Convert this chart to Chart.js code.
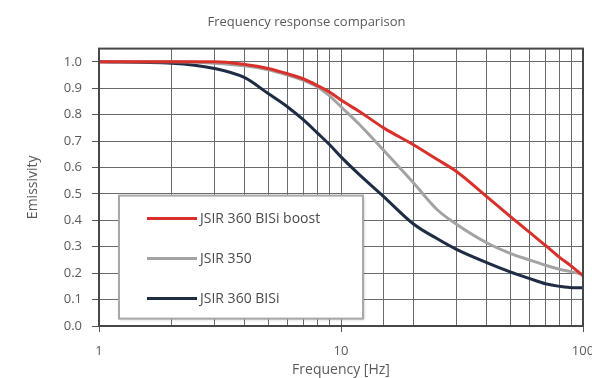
<!DOCTYPE html>
<html>
<head>
<meta charset="utf-8">
<script src="https://cdn.jsdelivr.net/npm/chart.js@4"></script>
<style>
html, body { margin: 0; padding: 0; background: #fff; }
#wrap { width: 592px; height: 378px; position: relative; }
</style>
</head>
<body>
<div id="wrap"><canvas id="chart"></canvas></div>
<script>
// frequency points (Hz) the curves were read at
const frequencies = [1, 2, 3, 4, 5, 6, 7, 8, 9, 10, 12, 15, 20, 25, 30, 40, 50, 60, 70, 80, 90, 100];
const boostValues = [1.0, 1.0, 1.0, 0.99, 0.975, 0.955, 0.935, 0.91, 0.885, 0.855, 0.81, 0.75, 0.685, 0.63, 0.585, 0.49, 0.415, 0.355, 0.305, 0.26, 0.225, 0.19];
const jsir350Values = [1.0, 1.0, 0.995, 0.985, 0.97, 0.95, 0.93, 0.905, 0.87, 0.83, 0.76, 0.665, 0.54, 0.44, 0.385, 0.315, 0.275, 0.25, 0.23, 0.215, 0.205, 0.195];
const bisiValues = [1.0, 0.995, 0.975, 0.94, 0.88, 0.83, 0.78, 0.73, 0.685, 0.64, 0.57, 0.49, 0.385, 0.33, 0.29, 0.24, 0.205, 0.18, 0.16, 0.15, 0.145, 0.145];
const seriesNames = ['JSIR 360 BISi boost', 'JSIR 350', 'JSIR 360 BISi'];
const xTickLabels = [1, 10, 100];
const yTickValues = [0, 0.1, 0.2, 0.3, 0.4, 0.5, 0.6, 0.7, 0.8, 0.9, 1.0];

const FONT = '"Open Sans", sans-serif';
const TEXT = '#5a5a5a';

const toPoints = vals => frequencies.map((f, i) => ({ x: f, y: vals[i] }));

// legend box + plot frame
const boxLegend = {
    id: 'boxLegend',
    afterDatasetsDraw(chart) {
        const c = chart.ctx;
        const a = chart.chartArea;
        c.save();
        c.strokeStyle = '#474747';
        c.lineWidth = 2;
        c.strokeRect(a.left, a.top, a.right - a.left, a.bottom - a.top);

        const bx = a.left + 20, by = a.top + 147, bw = 244, bh = 123;
        c.shadowColor = 'rgba(0,0,0,0.25)';
        c.shadowBlur = 3;
        c.shadowOffsetX = 1;
        c.shadowOffsetY = 1;
        c.fillStyle = '#fff';
        c.fillRect(bx, by, bw, bh);
        c.shadowColor = 'transparent';
        c.strokeStyle = '#a8a8a8';
        c.lineWidth = 2;
        c.strokeRect(bx, by, bw, bh);

        c.font = '14px ' + FONT;
        c.textBaseline = 'middle';
        chart.data.datasets.forEach((ds, i) => {
            const y = by + 23 + i * 40;
            c.strokeStyle = ds.borderColor;
            c.lineWidth = 3;
            c.beginPath();
            c.moveTo(bx + 28, y);
            c.lineTo(bx + 78, y);
            c.stroke();
            c.fillStyle = '#4a4a4a';
            c.fillText(ds.label, bx + 81, y);
        });
        c.restore();
    }
};

new Chart(document.getElementById('chart'), {
    type: 'line',
    data: {
        datasets: [
            { label: seriesNames[0], data: toPoints(boostValues), borderColor: '#d8302a', order: 1 },
            { label: seriesNames[1], data: toPoints(jsir350Values), borderColor: '#a3a3a3', order: 2 },
            { label: seriesNames[2], data: toPoints(bisiValues), borderColor: '#1e2c44', order: 3 }
        ]
    },
    options: {
        responsive: true,
        maintainAspectRatio: false,
        animation: false,
        devicePixelRatio: 1,
        layout: { padding: { left: 21, right: 0, top: 0, bottom: 0 } },
        elements: {
            point: { radius: 0 },
            line: { borderWidth: 3, cubicInterpolationMode: 'monotone', fill: false }
        },
        plugins: {
            legend: { display: false },
            tooltip: { enabled: false },
            title: {
                display: true,
                text: 'Frequency response comparison',
                color: TEXT,
                font: { family: FONT, size: 13, weight: 'normal' },
                padding: { top: 14, bottom: 19 }
            }
        },
        scales: {
            x: {
                type: 'logarithmic',
                min: 1,
                max: 100,
                afterFit: s => { s.height = 52; s.paddingRight = 9; },
                ticks: {
                    autoSkip: false,
                    maxRotation: 0,
                    padding: 11,
                    color: TEXT,
                    font: { family: FONT, size: 13 },
                    callback: v => xTickLabels.includes(v) ? String(v) : ''
                },
                grid: {
                    color: '#6a6a6a',
                    tickLength: 6,
                    tickColor: ctx => (ctx.tick && xTickLabels.includes(ctx.tick.value)) ? '#555' : 'transparent'
                },
                border: { color: '#474747', width: 2 },
                title: {
                    display: true,
                    text: 'Frequency [Hz]',
                    color: TEXT,
                    font: { family: FONT, size: 14 },
                    padding: { top: 0, bottom: 0 }
                }
            },
            y: {
                min: 0,
                max: 1.05,
                afterFit: s => { s.width = 78; },
                afterBuildTicks: s => { s.ticks = yTickValues.map(v => ({ value: v })); },
                ticks: {
                    padding: 10,
                    color: TEXT,
                    font: { family: FONT, size: 13 },
                    callback: v => v.toFixed(1)
                },
                grid: { color: '#6a6a6a', tickLength: 7, tickColor: '#555' },
                border: { color: '#474747', width: 2 },
                title: {
                    display: true,
                    text: 'Emissivity',
                    color: TEXT,
                    font: { family: FONT, size: 14 },
                    padding: { top: 4, bottom: 4 }
                }
            }
        }
    },
    plugins: [boxLegend]
});
</script>
</body>
</html>
